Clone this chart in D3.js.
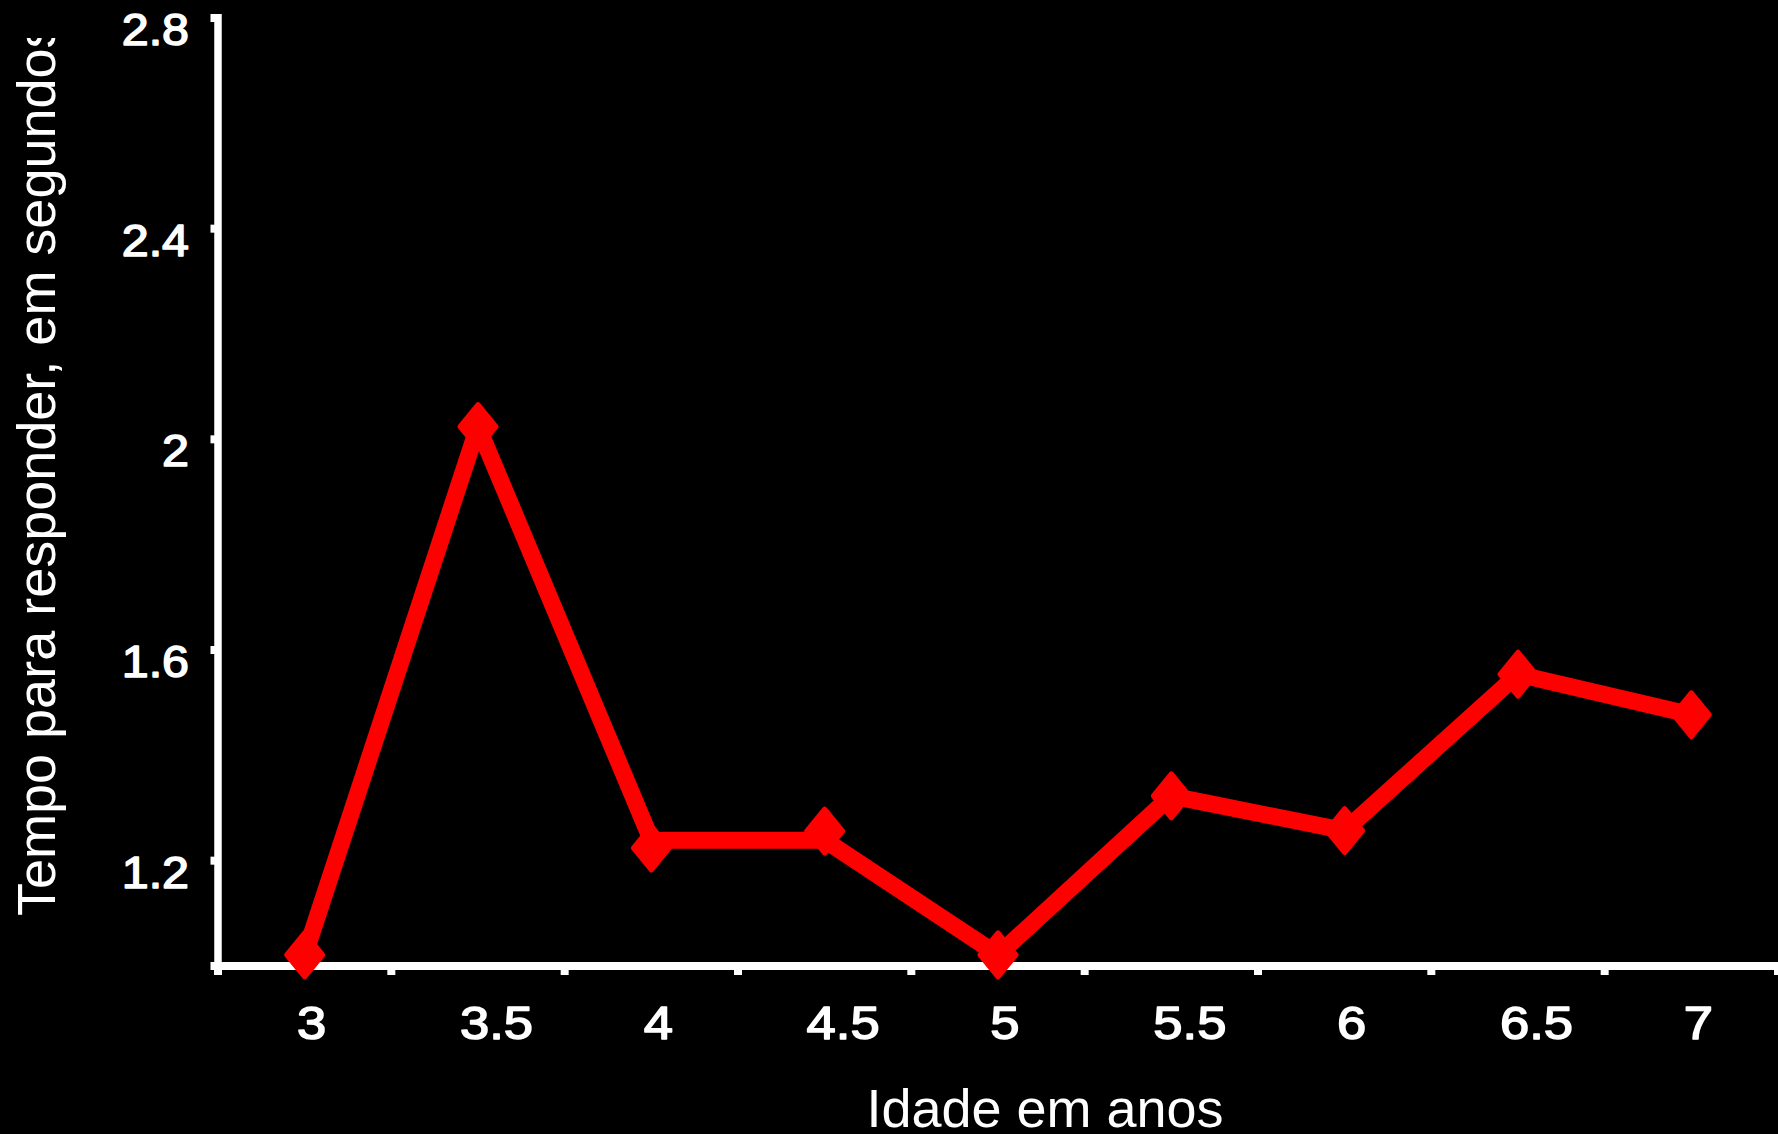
<!DOCTYPE html>
<html>
<head>
<meta charset="utf-8">
<script src="https://cdn.jsdelivr.net/npm/d3@7"></script>
<style>
  html, body { margin: 0; padding: 0; background: #000; }
  svg { display: block; }
</style>
</head>
<body>
<svg id="chart" width="1778" height="1134"></svg>
<script>
const ages = ["3", "3.5", "4", "4.5", "5", "5.5", "6", "6.5", "7"];
// values at the diamond markers
const times = [1.021, 2.024, 1.224, 1.256, 1.021, 1.323, 1.257, 1.554, 1.477];
// vertices of the drawn line (the segment 4 - 4.5 is drawn flat in the source)
const lineTimes = [1.021, 2.024, 1.239, 1.239, 1.021, 1.323, 1.257, 1.554, 1.477];
const yTicks = [1.0, 1.2, 1.6, 2.0, 2.4, 2.8];
const yTickLabels = ["", "1.2", "1.6", "2", "2.4", "2.8"];
const xTitle = "Idade em anos";
const yTitle = "Tempo para responder, em segundos";

const W = 1778, H = 1134;
const svg = d3.select("#chart");
svg.append("rect").attr("width", W).attr("height", H).attr("fill", "#000");

const x = d3.scaleBand().domain(ages).range([218, 1778]).padding(0);
const y = d3.scaleLinear().domain([1.0, 2.8]).range([966, 18]);
const cx = d => x(d) + x.bandwidth() / 2;

const white = "#ffffff";
const red = "#ff0000";
const font = "Liberation Sans, Arial, Helvetica, sans-serif";

// Y axis line
svg.append("line")
  .attr("x1", 218).attr("x2", 218)
  .attr("y1", y(2.8) - 4).attr("y2", y(1.0) + 4)
  .attr("stroke", white).attr("stroke-width", 7.5);

// Y ticks (left stubs)
svg.selectAll(".ytick").data(yTicks).enter().append("rect")
  .attr("x", 210.5).attr("width", 5)
  .attr("y", d => y(d) - 4).attr("height", 8)
  .attr("fill", white);

// Y tick labels (slightly widened, semi-bold glyphs as in the source)
svg.selectAll(".ylab").data(yTicks).enter().append("text")
  .attr("transform", d => `translate(189,${y(d) + 27}) scale(1.1,1)`)
  .attr("text-anchor", "end")
  .attr("font-family", font)
  .attr("font-size", 44)
  .attr("fill", white)
  .attr("stroke", white).attr("stroke-width", 1.5).attr("stroke-linejoin", "round")
  .text((d, i) => yTickLabels[i]);

// X axis line
svg.append("line")
  .attr("x1", 212).attr("x2", W)
  .attr("y1", y(1.0)).attr("y2", y(1.0))
  .attr("stroke", white).attr("stroke-width", 8);

// X ticks at band boundaries
const bounds = ages.map(a => x(a)).concat([x(ages[ages.length - 1]) + x.bandwidth()]);
svg.selectAll(".xtick").data(bounds).enter().append("rect")
  .attr("x", d => d - 4).attr("width", 8)
  .attr("y", y(1.0)).attr("height", 9)
  .attr("fill", white);

// X tick labels
svg.selectAll(".xlab").data(ages).enter().append("text")
  .attr("transform", d => `translate(${cx(d) + (d.includes(".") ? 18.5 : 7)},1039) scale(1.12,1)`)
  .attr("text-anchor", "middle")
  .attr("font-family", font)
  .attr("font-size", 47)
  .attr("fill", white)
  .attr("stroke", white).attr("stroke-width", 1.5).attr("stroke-linejoin", "round")
  .text(d => d);

// Line
const line = d3.line()
  .x((d, i) => cx(ages[i]))
  .y(d => y(d));
svg.append("path")
  .datum(lineTimes)
  .attr("d", line)
  .attr("fill", "none")
  .attr("stroke", red)
  .attr("stroke-width", 17)
  .attr("stroke-linejoin", "round");

// Diamond markers
const hw = 18, hh = 22;
svg.selectAll(".mark").data(times).enter().append("path")
  .attr("transform", (d, i) => `translate(${cx(ages[i])},${y(d)})`)
  .attr("d", `M0,${-hh} L${hw},0 L0,${hh} L${-hw},0 Z`)
  .attr("fill", red)
  .attr("stroke", red)
  .attr("stroke-width", 5)
  .attr("stroke-linejoin", "round");

// Axis titles
svg.append("text")
  .attr("x", 1045).attr("y", 1127)
  .attr("text-anchor", "middle")
  .attr("font-family", font)
  .attr("font-size", 54)
  .attr("fill", white)
  .text(xTitle);

svg.append("defs").append("clipPath").attr("id", "ytclip")
  .append("rect").attr("x", 0).attr("y", 38).attr("width", 200).attr("height", 1000);

svg.append("g").attr("clip-path", "url(#ytclip)")
  .append("text")
  .attr("transform", "translate(55,916) rotate(-90)")
  .attr("text-anchor", "start")
  .attr("font-family", font)
  .attr("font-size", 54)
  .attr("fill", white)
  .text(yTitle);
</script>
</body>
</html>
